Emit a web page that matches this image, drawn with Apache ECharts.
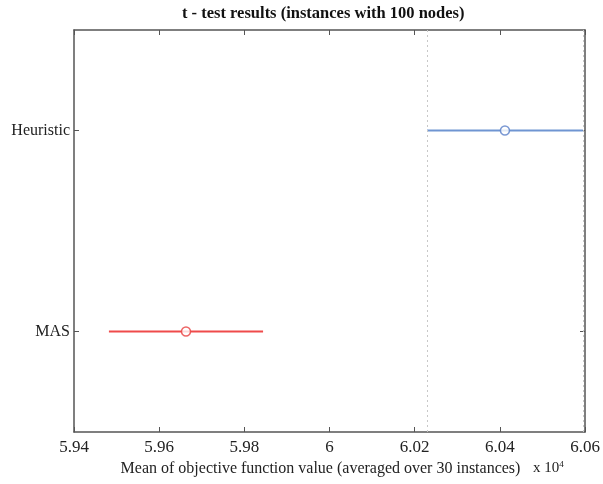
<!DOCTYPE html>
<html>
<head>
<meta charset="utf-8">
<style>
  html, body { margin: 0; padding: 0; background: #fff; }
  #chart { width: 603px; height: 484px; }
</style>
<script src="https://cdn.jsdelivr.net/npm/echarts@6/dist/echarts.min.js"></script>
</head>
<body>
<div id="chart"></div>
<script>
// Groups compared by the t-test (bottom to top)
const groups = ['MAS', 'Heuristic'];
// Group means, in units of 10^4
const means = [5.9663, 6.0412];
// Half-width of each comparison interval, in units of 10^4
const halfWidths = [0.0181, 0.0183];
const groupColors = ['#ef4b4b', '#6f95d2'];
const markerColors = ['#e84040', '#5a80c8'];
// X-axis ticks
const xTicks = [5.94, 5.96, 5.98, 6, 6.02, 6.04, 6.06];

const FONT = '"Liberation Serif", "Times New Roman", serif';
const axisColor = '#555555';

const series = [];
groups.forEach(function (g, i) {
  const lo = means[i] - halfWidths[i];
  const hi = means[i] + halfWidths[i];
  const s = {
    type: 'line',
    name: g,
    data: [[lo, g], [hi, g]],
    symbol: 'none',
    lineStyle: { color: groupColors[i], width: 2 },
    silent: true,
    z: 3
  };
  // Selected group: dotted guides at its interval bounds
  if (g === 'Heuristic') {
    s.markLine = {
      silent: true,
      symbol: 'none',
      precision: 5,
      label: { show: false },
      lineStyle: { color: '#c8c8c8', type: [2, 3], width: 1 },
      data: [{ xAxis: lo }, { xAxis: hi }]
    };
  }
  series.push(s);
  series.push({
    type: 'scatter',
    data: [[means[i], g]],
    symbol: 'circle',
    symbolSize: 9,
    itemStyle: { color: '#fff', borderColor: markerColors[i], borderWidth: 1.5 },
    silent: true,
    z: 4
  });
});

const boxAxisLine = { show: true, lineStyle: { color: axisColor, width: 1.5 } };
const boxTick = { show: true, inside: true, length: 5, lineStyle: { color: axisColor } };

const chart = echarts.init(document.getElementById('chart'), null, { renderer: 'canvas' });
chart.setOption({
  animation: false,
  backgroundColor: '#fff',
  title: {
    text: 't - test results (instances with 100 nodes)',
    left: 177,
    top: 0,
    textStyle: { fontFamily: FONT, fontWeight: 'bold', fontSize: 16.5, color: '#111' }
  },
  grid: { left: 74, right: 18, top: 30, bottom: 52 },
  xAxis: [{
    type: 'value',
    min: xTicks[0],
    max: xTicks[xTicks.length - 1],
    interval: 0.02,
    name: 'Mean of objective function value (averaged over 30 instances)',
    nameLocation: 'middle',
    nameGap: 29,
    nameTextStyle: { fontFamily: FONT, fontSize: 16, color: '#222', padding: [0, 18, 0, 0] },
    axisLine: boxAxisLine,
    axisTick: boxTick,
    axisLabel: {
      fontFamily: FONT, fontSize: 17, color: '#222', margin: 7,
      formatter: function (v) { return String(Math.round(v * 100) / 100); }
    },
    splitLine: { show: false }
  }, {
    type: 'value',
    position: 'top',
    min: xTicks[0],
    max: xTicks[xTicks.length - 1],
    interval: 0.02,
    axisLine: boxAxisLine,
    axisTick: boxTick,
    axisLabel: { show: false },
    splitLine: { show: false }
  }],
  yAxis: [{
    type: 'category',
    data: groups,
    axisLine: boxAxisLine,
    axisTick: Object.assign({ alignWithLabel: true }, boxTick),
    axisLabel: { fontFamily: FONT, fontSize: 16, color: '#222', margin: 4 },
    splitLine: { show: false }
  }, {
    type: 'category',
    data: groups,
    position: 'right',
    axisLine: boxAxisLine,
    axisTick: Object.assign({ alignWithLabel: true }, boxTick),
    axisLabel: { show: false },
    splitLine: { show: false }
  }],
  graphic: [{
    type: 'text',
    left: 533,
    top: 460,
    style: {
      text: 'x 10{sup|4}',
      font: '15px ' + FONT,
      fill: '#222',
      rich: { sup: { fontSize: 9, verticalAlign: 'top', padding: [0, 0, 7, 0], fontFamily: FONT } }
    }
  }],
  series: series
});
</script>
</body>
</html>
